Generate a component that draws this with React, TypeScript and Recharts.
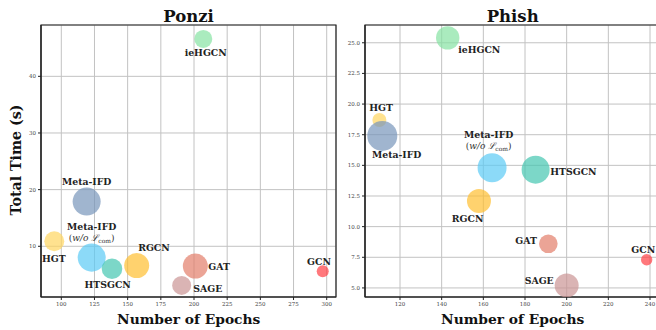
import React from "react";
import {
  ScatterChart,
  Scatter,
  XAxis,
  YAxis,
  ZAxis,
  CartesianGrid,
  ReferenceArea,
  Cell,
} from "recharts";

// model order = drawing order
const models = ["HGT", "Meta-IFD", "ieHGCN", "Meta-IFD-wo", "HTSGCN", "RGCN", "SAGE", "GAT", "GCN"];

const ponziEpochs = [94.7, 119.1, 207, 122.9, 138.2, 156.8, 190.7, 201, 297];
const ponziTime = [10.9, 17.9, 46.6, 8.0, 6.05, 6.6, 3.1, 6.5, 5.6];
const ponziSize = [314, 616, 254, 616, 333, 491, 284, 491, 113];

const phishEpochs = [110.1, 111.5, 142.9, 164.2, 185.1, 157.9, 200, 191.2, 238.4];
const phishTime = [18.7, 17.4, 25.4, 14.8, 14.65, 12.1, 5.2, 8.6, 7.3];
const phishSize = [154, 707, 430, 660, 616, 452, 452, 272, 102];

const ponziXTicks = [100, 125, 150, 175, 200, 225, 250, 275, 300];
const ponziYTicks = [10, 20, 30, 40];
const phishXTicks = [120, 140, 160, 180, 200, 220, 240];
const phishYTicks = [5, 7.5, 10, 12.5, 15, 17.5, 20, 22.5, 25];

const colors: Record<string, string> = {
  HGT: "#ffd65f",
  "Meta-IFD": "#7895ba",
  ieHGCN: "#86e2a2",
  "Meta-IFD-wo": "#5bcaf5",
  HTSGCN: "#45c6b0",
  RGCN: "#ffbf30",
  SAGE: "#ca9494",
  GAT: "#e27e69",
  GCN: "#ff3e45",
};

type Place = { dx: number; dy: number; anchor: "start" | "middle" | "end" };

const ponziLabels: Record<string, Place> = {
  HGT: { dx: -0.4, dy: 17, anchor: "middle" },
  "Meta-IFD": { dx: 0, dy: -20, anchor: "middle" },
  ieHGCN: { dx: 2.4, dy: 13.7, anchor: "middle" },
  "Meta-IFD-wo": { dx: 0, dy: -31, anchor: "middle" },
  HTSGCN: { dx: -4.3, dy: 15.6, anchor: "middle" },
  RGCN: { dx: 17.3, dy: -17.6, anchor: "middle" },
  SAGE: { dx: 11.6, dy: 3, anchor: "start" },
  GAT: { dx: 13, dy: 0, anchor: "start" },
  GCN: { dx: -3.7, dy: -9.3, anchor: "middle" },
};

const phishLabels: Record<string, Place> = {
  HGT: { dx: 1.7, dy: -12, anchor: "middle" },
  "Meta-IFD": { dx: 14.4, dy: 18.6, anchor: "middle" },
  ieHGCN: { dx: 10.6, dy: 11.3, anchor: "start" },
  "Meta-IFD-wo": { dx: -3.4, dy: -33.3, anchor: "middle" },
  HTSGCN: { dx: 14.7, dy: 1.7, anchor: "start" },
  RGCN: { dx: -11.3, dy: 18, anchor: "middle" },
  SAGE: { dx: -13, dy: -4.6, anchor: "end" },
  GAT: { dx: -11.4, dy: -3.6, anchor: "end" },
  GCN: { dx: -3.4, dy: -10, anchor: "middle" },
};

const FONT = "'DejaVu Serif', serif";

const toRows = (xs: number[], ys: number[], zs: number[]) =>
  models.map((name, i) => ({ name, epochs: xs[i], time: ys[i], size: zs[i] }));

const makeShape = (places: Record<string, Place>) => (props: any) => {
  const { cx, cy, payload, fill } = props;
  const r = Math.sqrt((props.size ?? 100) / Math.PI);
  const p = places[payload.name];
  const tx = cx + p.dx;
  const ty = cy + p.dy;
  const isWo = payload.name === "Meta-IFD-wo";
  return (
    <g>
      <circle cx={cx} cy={cy} r={r} fill={fill} fillOpacity={0.7} />
      <text
        x={tx}
        y={ty}
        textAnchor={p.anchor}
        dominantBaseline="central"
        fontFamily={FONT}
        fontWeight="bold"
        fontSize={9.3}
        fill="#222"
      >
        {isWo ? "Meta-IFD" : payload.name}
      </text>
      {isWo && (
        <text
          x={tx}
          y={ty + 11}
          textAnchor="middle"
          dominantBaseline="central"
          fontFamily={FONT}
          fontSize={9}
          fill="#333"
        >
          (<tspan fontStyle="italic">w/o </tspan>
          <tspan fontStyle="italic">ℒ</tspan>
          <tspan fontSize={6} dy={2}>com</tspan>
          <tspan dy={-2}>)</tspan>
        </text>
      )}
    </g>
  );
};

const tickStyle = { fontSize: 5.5, fontFamily: FONT, fill: "#444" };

interface PanelProps {
  rows: any[];
  xDomain: [number, number];
  yDomain: [number, number];
  xTicks: number[];
  yTicks: number[];
  places: Record<string, Place>;
  yFormat?: (v: number) => string;
  left: number;
  marginLeft: number;
}

const Panel = ({ rows, xDomain, yDomain, xTicks, yTicks, places, yFormat, left, marginLeft }: PanelProps) => (
  <div style={{ position: "absolute", left, top: 0 }}>
    <ScatterChart
      width={340}
      height={330}
      margin={{ top: 25, right: 340 - 295 - 20 - marginLeft, bottom: 13, left: marginLeft }}
    >
      <CartesianGrid stroke="#c2c2c2" strokeWidth={1} />
      <XAxis
        type="number"
        dataKey="epochs"
        domain={xDomain}
        ticks={xTicks}
        height={20}
        tickSize={3}
        tick={tickStyle}
        stroke="#222"
        tickLine={{ stroke: "#222" }}
        axisLine={{ stroke: "#222", strokeWidth: 1.2 }}
        interval={0}
        allowDataOverflow
      />
      <YAxis
        type="number"
        dataKey="time"
        domain={yDomain}
        ticks={yTicks}
        width={20}
        tickSize={3}
        tick={tickStyle}
        tickFormatter={yFormat}
        stroke="#222"
        axisLine={{ stroke: "#222", strokeWidth: 1.2 }}
        interval={0}
        allowDataOverflow
      />
      <ZAxis type="number" dataKey="size" domain={[0, 1000]} range={[0, 1000]} />
      <ReferenceArea
        x1={xDomain[0]}
        x2={xDomain[1]}
        y1={yDomain[0]}
        y2={yDomain[1]}
        fill="none"
        stroke="#222"
        strokeWidth={1.2}
        strokeOpacity={1}
      />
      <Scatter data={rows} shape={makeShape(places)} isAnimationActive={false}>
        {rows.map((r) => (
          <Cell key={r.name} fill={colors[r.name]} />
        ))}
      </Scatter>
    </ScatterChart>
  </div>
);

export default function App() {
  const ponzi = toRows(ponziEpochs, ponziTime, ponziSize);
  const phish = toRows(phishEpochs, phishTime, phishSize);
  return (
    <div
      style={{
        position: "absolute",
        left: 0,
        top: 0,
        width: 656,
        height: 330,
        overflow: "hidden",
        background: "#fff",
      }}
    >
      <Panel
        rows={ponzi}
        xDomain={[84.7, 307]}
        yDomain={[1.05, 49.06]}
        xTicks={ponziXTicks}
        yTicks={ponziYTicks}
        places={ponziLabels}
        left={0}
        marginLeft={21}
      />
      <Panel
        rows={phish}
        xDomain={[103.2, 244.8]}
        yDomain={[4.26, 26.45]}
        xTicks={phishXTicks}
        yTicks={phishYTicks}
        places={phishLabels}
        yFormat={(v: number) => v.toFixed(1)}
        left={340}
        marginLeft={5}
      />
      <svg
        width={656}
        height={330}
        style={{ position: "absolute", left: 0, top: 0, pointerEvents: "none" }}
      >
        <g fontFamily={FONT} fontWeight="bold" fill="#111">
          <text x={188.5} y={21.5} textAnchor="middle" fontSize={16.5}>Ponzi</text>
          <text x={512.7} y={21.5} textAnchor="middle" fontSize={16.5}>Phish</text>
          <text x={188.7} y={324} textAnchor="middle" fontSize={13.8}>Number of Epochs</text>
          <text x={512.7} y={324} textAnchor="middle" fontSize={13.8}>Number of Epochs</text>
          <text
            x={0}
            y={0}
            textAnchor="middle"
            fontSize={14.2}
            transform="translate(21 160) rotate(-90)"
          >
            Total Time (s)
          </text>
        </g>
      </svg>
    </div>
  );
}
